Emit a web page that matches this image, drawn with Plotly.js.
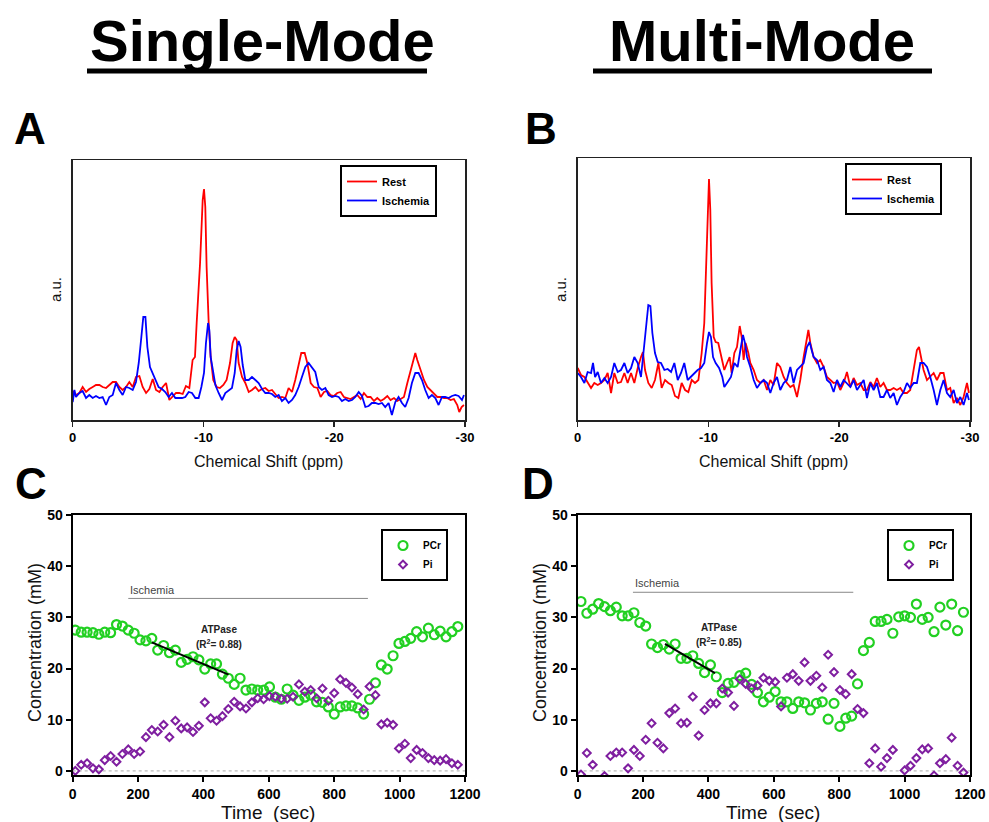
<!DOCTYPE html>
<html>
<head>
<meta charset="utf-8">
<script src="https://cdn.plot.ly/plotly-3.0.1.min.js"></script>
<style>html,body{margin:0;padding:0;background:#fff;}#chart{width:989px;height:822px;}</style>
</head>
<body>
<div id="chart"></div>
<script>
// ---------- Spectra (panel A: Single-Mode) ----------
var restA_x = [0,-0.25,-0.51,-0.76,-1.02,-1.27,-1.53,-1.78,-2.04,-2.29,-2.55,-2.80,-3.06,-3.31,-3.57,-3.82,-4.08,-4.33,-4.59,-4.84,-5.10,-5.35,-5.61,-5.86,-6.12,-6.37,-6.63,-6.88,-7.14,-7.39,-7.65,-7.90,-8.15,-8.41,-8.66,-8.92,-9.17,-9.35,-9.48,-9.74,-9.94,-10.04,-10.14,-10.24,-10.40,-10.55,-10.75,-11.01,-11.26,-11.52,-11.77,-12.03,-12.23,-12.39,-12.54,-12.69,-12.95,-13.20,-13.46,-13.71,-13.97,-14.22,-14.48,-14.73,-14.98,-15.24,-15.49,-15.75,-16.00,-16.26,-16.51,-16.77,-17.02,-17.28,-17.48,-17.74,-17.94,-18.20,-18.45,-18.71,-18.96,-19.22,-19.47,-19.72,-19.98,-20.23,-20.49,-20.74,-21.00,-21.25,-21.51,-21.76,-22.02,-22.27,-22.53,-22.78,-23.04,-23.29,-23.55,-23.80,-24.06,-24.31,-24.57,-24.82,-25.08,-25.33,-25.59,-25.84,-26.05,-26.20,-26.35,-26.61,-26.86,-27.12,-27.37,-27.62,-27.88,-28.13,-28.39,-28.64,-28.90,-29.15,-29.41,-29.56,-29.74,-29.92];
var restA_y = [29,25,27,33,28,31,33,35,35,33,32,35,38,38,33,30,33,38,33,43,44,33,27,31,41,30,28,33,37,20,24,27,27,26,34,32,60,63,97,157,220,231,213,153,97,63,40,33,32,35,40,57,77,83,80,57,43,37,28,30,33,29,31,32,29,30,26,22,23,22,32,28,40,57,67,67,57,37,33,32,23,28,29,25,24,27,28,23,22,21,23,25,21,27,23,23,19,22,19,21,24,20,22,19,21,23,37,50,62,67,60,50,40,33,30,27,23,23,22,22,20,21,15,8,13,15];
var ischA_x = [0,-0.13,-0.25,-0.51,-0.76,-1.02,-1.27,-1.53,-1.78,-2.04,-2.29,-2.55,-2.80,-3.06,-3.31,-3.57,-3.82,-4.08,-4.33,-4.59,-4.84,-5.05,-5.25,-5.40,-5.56,-5.71,-5.91,-6.12,-6.32,-6.57,-6.83,-7.08,-7.34,-7.59,-7.85,-8.10,-8.36,-8.61,-8.87,-9.12,-9.38,-9.63,-9.84,-10.04,-10.19,-10.35,-10.45,-10.55,-10.70,-10.91,-11.16,-11.42,-11.67,-11.93,-12.18,-12.39,-12.54,-12.69,-12.84,-13.00,-13.20,-13.46,-13.71,-13.97,-14.22,-14.48,-14.73,-14.98,-15.24,-15.49,-15.75,-16.00,-16.26,-16.51,-16.77,-17.02,-17.28,-17.53,-17.79,-18.04,-18.30,-18.55,-18.81,-19.06,-19.32,-19.57,-19.83,-20.08,-20.34,-20.59,-20.85,-21.10,-21.36,-21.61,-21.87,-22.12,-22.38,-22.63,-22.88,-23.14,-23.39,-23.65,-23.90,-24.16,-24.41,-24.67,-24.92,-25.18,-25.43,-25.69,-25.94,-26.20,-26.45,-26.71,-26.96,-27.22,-27.47,-27.73,-27.98,-28.24,-28.49,-28.75,-29.00,-29.26,-29.51,-29.77,-29.92];
var ischA_y = [18,30,23,27,29,22,25,22,24,22,23,15,23,25,37,30,25,33,32,30,38,57,83,103,103,73,53,47,40,33,31,28,23,27,22,22,22,23,28,27,22,22,33,47,77,97,90,63,50,35,27,20,27,30,32,47,70,79,73,55,40,40,43,40,37,31,27,27,26,23,25,19,22,17,20,25,33,43,53,57,52,48,33,30,32,25,23,24,23,19,21,19,20,23,28,24,13,14,17,17,16,17,13,17,5,18,23,17,13,22,37,47,47,40,30,22,25,22,15,23,23,22,24,25,24,20,25];

// ---------- Spectra (panel B: Multi-Mode) ----------
var restB_x = [0,-0.25,-0.51,-0.76,-1.02,-1.27,-1.53,-1.78,-2.04,-2.29,-2.55,-2.80,-3.06,-3.31,-3.57,-3.82,-4.08,-4.33,-4.59,-4.84,-4.99,-5.15,-5.40,-5.66,-5.91,-6.17,-6.42,-6.68,-6.93,-7.19,-7.44,-7.70,-7.95,-8.21,-8.46,-8.72,-8.97,-9.23,-9.48,-9.68,-9.84,-9.94,-10.04,-10.14,-10.24,-10.40,-10.55,-10.75,-10.91,-11.06,-11.21,-11.42,-11.62,-11.77,-11.98,-12.18,-12.39,-12.54,-12.69,-12.84,-13.05,-13.20,-13.46,-13.71,-13.97,-14.22,-14.48,-14.73,-14.98,-15.24,-15.49,-15.75,-16.00,-16.26,-16.51,-16.77,-17.02,-17.28,-17.48,-17.64,-17.79,-18.04,-18.30,-18.55,-18.81,-19.06,-19.32,-19.57,-19.83,-20.08,-20.34,-20.59,-20.85,-21.10,-21.36,-21.61,-21.87,-22.12,-22.38,-22.63,-22.88,-23.14,-23.39,-23.65,-23.90,-24.16,-24.41,-24.67,-24.92,-25.18,-25.43,-25.69,-25.94,-26.10,-26.25,-26.45,-26.71,-26.96,-27.22,-27.47,-27.73,-27.98,-28.24,-28.49,-28.75,-29.00,-29.26,-29.51,-29.77,-29.92];
var restB_y = [52,45,43,37,32,37,35,37,40,47,27,47,37,38,47,37,47,37,52,63,68,50,37,32,40,57,32,40,37,35,24,22,37,30,28,40,37,40,67,97,163,220,241,210,137,83,78,77,67,57,50,57,63,47,67,73,94,83,60,77,67,57,50,40,37,40,30,40,35,57,53,43,37,33,35,23,40,63,80,90,77,63,57,60,53,43,40,37,38,30,37,48,33,42,35,37,30,30,38,33,42,33,37,30,30,32,30,32,27,27,30,53,70,73,63,50,40,43,47,40,47,47,30,32,17,22,15,23,37,27];
var ischB_x = [0,-0.25,-0.51,-0.76,-1.02,-1.17,-1.33,-1.53,-1.78,-2.04,-2.29,-2.55,-2.80,-3.06,-3.31,-3.57,-3.82,-4.08,-4.33,-4.59,-4.84,-5.05,-5.25,-5.40,-5.56,-5.71,-5.91,-6.12,-6.37,-6.63,-6.88,-7.14,-7.39,-7.65,-7.90,-8.15,-8.41,-8.66,-8.92,-9.17,-9.43,-9.68,-9.89,-10.04,-10.19,-10.35,-10.55,-10.81,-11.06,-11.21,-11.47,-11.72,-11.98,-12.23,-12.44,-12.64,-12.79,-12.95,-13.20,-13.46,-13.71,-13.97,-14.22,-14.48,-14.73,-14.98,-15.24,-15.49,-15.75,-16.00,-16.26,-16.51,-16.77,-17.02,-17.28,-17.53,-17.74,-17.89,-18.04,-18.30,-18.55,-18.81,-19.06,-19.32,-19.57,-19.83,-20.08,-20.34,-20.59,-20.85,-21.10,-21.36,-21.61,-21.87,-22.12,-22.38,-22.63,-22.88,-23.14,-23.39,-23.65,-23.90,-24.16,-24.41,-24.67,-24.92,-25.18,-25.43,-25.69,-25.94,-26.20,-26.45,-26.71,-26.96,-27.22,-27.47,-27.73,-27.98,-28.24,-28.49,-28.75,-29.00,-29.26,-29.51,-29.77,-29.92];
var ischB_y = [47,43,37,48,47,57,43,48,37,42,37,43,57,48,50,57,47,52,63,57,43,73,97,115,114,87,67,58,57,50,51,48,57,40,47,57,40,43,47,50,52,57,77,88,83,63,57,52,43,33,38,43,57,53,70,85,77,63,53,40,32,37,40,37,27,37,43,30,37,40,53,37,50,53,57,73,78,70,63,60,50,53,40,37,28,40,33,40,37,33,40,30,35,40,22,37,30,37,23,23,30,22,27,15,23,28,37,32,37,37,57,57,53,43,30,15,30,40,27,23,30,17,23,15,27,20];

// ---------- Kinetics (panel C: Single-Mode) ----------
var timeC = [8,26,44,62,80,98,116,134,152,170,188,206,224,242,260,278,296,314,332,350,368,386,404,422,440,458,476,494,512,530,548,566,584,602,620,638,656,674,692,710,728,746,764,782,800,818,836,854,872,890,908,926,944,962,980,998,1016,1034,1052,1070,1088,1106,1124,1142,1160,1178];
var pcrC = [27.5,27.1,27.1,27.0,26.7,27.1,27.0,28.6,28.3,27.5,26.9,25.6,25.4,25.9,23.6,24.5,23.1,23.6,21.2,21.8,22.3,21.7,19.9,20.9,20.9,18.9,18.1,16.9,18.1,15.8,16.0,15.8,15.8,16.4,14.4,14.0,16.0,14.8,13.8,14.4,14.8,13.5,13.4,12.5,11.1,12.5,12.7,12.7,12.3,11.1,14.0,17.2,20.7,19.9,22.5,24.9,25.3,25.9,27.2,26.2,27.9,26.6,27.3,26.2,27.2,28.2];
var piC = [0.0,1.2,1.5,0.5,0.3,2.1,2.9,1.8,3.3,4.2,3.3,3.8,6.6,8.0,7.7,9.0,6.6,9.8,8.3,8.5,7.6,8.8,13.4,10.3,9.8,10.7,12.1,13.5,12.6,12.2,13.4,14.2,14.0,14.6,14.5,14.1,14.1,14.5,16.9,15.5,15.8,14.2,16.1,13.7,15.2,17.9,17.2,16.3,15.0,12.0,16.5,14.8,9.1,9.4,9.0,4.4,5.3,2.5,4.1,3.5,2.5,2.1,2.0,2.3,1.5,1.2];
var fitC_x = [242, 477];
var fitC_y = [25.1, 18.8];
var ischBarC_x = [170, 903];
var ischBarC_y = 33.7;

// ---------- Kinetics (panel D: Multi-Mode) ----------
var timeD = [10,28,46,64,82,100,118,136,154,172,190,208,226,244,262,280,298,316,334,352,370,388,406,424,442,460,478,496,514,532,550,568,586,604,622,640,658,676,694,712,730,748,766,784,802,820,838,856,874,892,910,928,946,964,982,1000,1018,1036,1054,1072,1090,1108,1126,1144,1162,1180];
var pcrD = [33.1,30.8,31.6,32.7,32.1,31.3,32.0,30.3,30.3,30.9,29.0,28.3,24.8,24.1,24.7,23.8,24.8,22.0,22.0,22.5,21.0,19.2,20.7,18.4,15.3,17.1,17.3,18.6,19.1,16.9,15.3,13.5,14.4,15.5,13.5,13.5,12.2,13.5,13.3,11.9,13.2,13.5,10.1,13.2,8.7,10.3,10.7,17.0,23.5,25.1,29.2,29.2,29.6,26.9,30.1,30.3,30.0,32.6,29.6,30.0,27.2,32.0,28.5,32.6,27.4,31.0];
var piD = [-0.7,3.5,1.2,null,-1.0,2.9,3.6,3.6,0.5,4.1,2.9,6.1,9.3,5.5,4.4,11.3,12.2,9.3,9.4,14.5,6.9,11.9,13.2,13.2,16.1,15.3,12.7,17.9,17.0,16.1,16.7,18.2,17.6,17.4,12.6,18.2,18.9,17.6,21.2,17.6,18.6,16.3,22.7,19.3,15.8,15.0,18.9,12.1,11.3,1.5,4.4,0.8,2.5,4.1,null,0.1,1.0,2.5,4.2,4.4,-0.9,1.5,2.3,6.5,1.0,-0.3];
var fitD_x = [267, 420];
var fitD_y = [24.8, 19.1];
var ischBarD_x = [169, 843];
var ischBarD_y = 34.9;

var ppmTicks = [0, -10, -20, -30];
var ppmTickText = ['0', '-10', '-20', '-30'];
var timeTicks = [0, 200, 400, 600, 800, 1000, 1200];
var concTicks = [0, 10, 20, 30, 40, 50];

var F = 'Liberation Sans, Arial, Helvetica, sans-serif';
var RED = '#ff0000', BLUE = '#0000ff', GREEN = '#22d022', PURPLE = '#7f1fa0';

var traces = [
  {x: restA_x, y: restA_y, type: 'scatter', mode: 'lines', name: 'Rest', xaxis: 'x', yaxis: 'y', legend: 'legend', line: {color: RED, width: 1.8}},
  {x: ischA_x, y: ischA_y, type: 'scatter', mode: 'lines', name: 'Ischemia', xaxis: 'x', yaxis: 'y', legend: 'legend', line: {color: BLUE, width: 1.8}},
  {x: restB_x, y: restB_y, type: 'scatter', mode: 'lines', name: 'Rest', xaxis: 'x2', yaxis: 'y2', legend: 'legend2', line: {color: RED, width: 1.8}},
  {x: ischB_x, y: ischB_y, type: 'scatter', mode: 'lines', name: 'Ischemia', xaxis: 'x2', yaxis: 'y2', legend: 'legend2', line: {color: BLUE, width: 1.8}},
  {x: timeC, y: pcrC, type: 'scatter', mode: 'markers', name: 'PCr', xaxis: 'x3', yaxis: 'y3', legend: 'legend3', marker: {symbol: 'circle-open', size: 9, color: GREEN, line: {width: 2.2, color: GREEN}}},
  {x: timeC, y: piC, type: 'scatter', mode: 'markers', name: 'Pi', xaxis: 'x3', yaxis: 'y3', legend: 'legend3', marker: {symbol: 'diamond-open', size: 6, color: PURPLE, line: {width: 2, color: PURPLE}}},
  {x: fitC_x, y: fitC_y, type: 'scatter', mode: 'lines', showlegend: false, xaxis: 'x3', yaxis: 'y3', line: {color: '#000', width: 2}},
  {x: timeD, y: pcrD, type: 'scatter', mode: 'markers', name: 'PCr', xaxis: 'x4', yaxis: 'y4', legend: 'legend4', marker: {symbol: 'circle-open', size: 9, color: GREEN, line: {width: 2.2, color: GREEN}}},
  {x: timeD, y: piD, type: 'scatter', mode: 'markers', name: 'Pi', xaxis: 'x4', yaxis: 'y4', legend: 'legend4', marker: {symbol: 'diamond-open', size: 6, color: PURPLE, line: {width: 2, color: PURPLE}}},
  {x: fitD_x, y: fitD_y, type: 'scatter', mode: 'lines', showlegend: false, xaxis: 'x4', yaxis: 'y4', line: {color: '#000', width: 2}}
];

function specX(dom, anchor) {
  return {domain: dom, anchor: anchor, range: [0, -30], tickvals: ppmTicks, ticktext: ppmTickText,
    ticks: 'outside', ticklen: 5, tickwidth: 1.5, tickcolor: '#222', showline: true, mirror: true,
    linecolor: '#222', linewidth: 1.5, showgrid: false, zeroline: false,
    tickfont: {family: F, size: 13, color: '#000', weight: 'bold'}};
}
function specY(dom, anchor, top) {
  return {domain: dom, anchor: anchor, range: [0, top], showticklabels: false, ticks: '',
    showline: true, mirror: true, linecolor: '#222', linewidth: 1.5, showgrid: false, zeroline: false};
}
function kinX(dom, anchor) {
  return {domain: dom, anchor: anchor, range: [0, 1200], tickvals: timeTicks,
    ticks: 'outside', ticklen: 5, tickwidth: 2, tickcolor: '#000', showline: true, mirror: true,
    linecolor: '#000', linewidth: 2, showgrid: false, zeroline: false,
    tickfont: {family: F, size: 14, color: '#000', weight: 'bold'}};
}
function kinY(dom, anchor) {
  return {domain: dom, anchor: anchor, range: [-0.8, 50], tickvals: concTicks,
    ticks: 'outside', ticklen: 5, tickwidth: 2, tickcolor: '#000', showline: true, mirror: true,
    linecolor: '#000', linewidth: 2, showgrid: false, zeroline: false,
    tickfont: {family: F, size: 14, color: '#000', weight: 'bold'}};
}
function legendBox(x, y, size) {
  return {x: x, y: y, xanchor: 'left', yanchor: 'top', bgcolor: '#fff', bordercolor: '#000', borderwidth: 2,
    font: {family: F, size: size, color: '#000', weight: 'bold'}, traceorder: 'normal', itemwidth: 30, tracegroupgap: 0};
}

var xL = [72.7/989, 465/989], xR = [577.7/989, 970/989];
var ySpecA = [1 - 420/822, 1 - 160/822], ySpecB = [1 - 420/822, 1 - 158/822];
var yKin = [1 - 775/822, 1 - 515/822];

function ann(text, x, y, opts) {
  var a = {text: text, x: x, y: y, xref: 'paper', yref: 'paper', showarrow: false, xanchor: 'center', yanchor: 'middle',
    font: {family: F, size: 14, color: '#000'}};
  for (var k in opts) a[k] = opts[k];
  return a;
}

var annotations = [
  ann('Single-Mode', 262/989, 1 - 40/822, {font: {family: F, size: 58, color: '#000', weight: 'bold'}}),
  ann('Multi-Mode', 762/989, 1 - 40/822, {font: {family: F, size: 58, color: '#000', weight: 'bold'}}),
  ann('A', 30/989, 1 - 129/822, {font: {family: F, size: 44, color: '#000', weight: 'bold'}}),
  ann('B', 541/989, 1 - 129/822, {font: {family: F, size: 44, color: '#000', weight: 'bold'}}),
  ann('C', 31/989, 1 - 483/822, {font: {family: F, size: 44, color: '#000', weight: 'bold'}}),
  ann('D', 538/989, 1 - 483/822, {font: {family: F, size: 44, color: '#000', weight: 'bold'}}),
  ann('Chemical Shift (ppm)', 268/989, 1 - 461/822, {font: {family: F, size: 16, color: '#111'}}),
  ann('Chemical Shift (ppm)', 773/989, 1 - 461/822, {font: {family: F, size: 16, color: '#111'}}),
  ann('a.u.', 55/989, 1 - 290/822, {textangle: -90, font: {family: F, size: 15, color: '#111'}}),
  ann('a.u.', 560/989, 1 - 290/822, {textangle: -90, font: {family: F, size: 15, color: '#111'}}),
  ann('Concentration (mM)', 35/989, 1 - 643/822, {textangle: -90, font: {family: F, size: 18, color: '#111'}}),
  ann('Concentration (mM)', 540/989, 1 - 643/822, {textangle: -90, font: {family: F, size: 18, color: '#111'}}),
  ann('Time\u00A0 (sec)', 268/989, 1 - 812/822, {font: {family: F, size: 19, color: '#111'}}),
  ann('Time\u00A0 (sec)', 773/989, 1 - 812/822, {font: {family: F, size: 19, color: '#111'}}),
  {text: 'Ischemia', x: ischBarC_x[0], y: 35.4, xref: 'x3', yref: 'y3', showarrow: false, xanchor: 'left', yanchor: 'middle', font: {family: F, size: 11, color: '#444'}},
  {text: 'Ischemia', x: ischBarD_x[0], y: 36.7, xref: 'x4', yref: 'y4', showarrow: false, xanchor: 'left', yanchor: 'middle', font: {family: F, size: 11, color: '#444'}},
  {text: 'ATPase', x: 446, y: 27.7, xref: 'x3', yref: 'y3', showarrow: false, font: {family: F, size: 10, color: '#222', weight: 'bold'}},
  {text: '(R<sup>2</sup>= 0.88)', x: 446, y: 24.8, xref: 'x3', yref: 'y3', showarrow: false, font: {family: F, size: 10, color: '#222', weight: 'bold'}},
  {text: 'ATPase', x: 432, y: 28.1, xref: 'x4', yref: 'y4', showarrow: false, font: {family: F, size: 10, color: '#222', weight: 'bold'}},
  {text: '(R<sup>2</sup>= 0.85)', x: 432, y: 25.2, xref: 'x4', yref: 'y4', showarrow: false, font: {family: F, size: 10, color: '#222', weight: 'bold'}}
];

var shapes = [
  {type: 'line', xref: 'paper', yref: 'paper', x0: 87/989, x1: 427/989, y0: 1 - 71/822, y1: 1 - 71/822, line: {color: '#000', width: 5}},
  {type: 'line', xref: 'paper', yref: 'paper', x0: 593/989, x1: 932/989, y0: 1 - 71/822, y1: 1 - 71/822, line: {color: '#000', width: 5}},
  {type: 'line', xref: 'x3', yref: 'y3', x0: ischBarC_x[0], x1: ischBarC_x[1], y0: ischBarC_y, y1: ischBarC_y, line: {color: '#888', width: 1}},
  {type: 'line', xref: 'x4', yref: 'y4', x0: ischBarD_x[0], x1: ischBarD_x[1], y0: ischBarD_y, y1: ischBarD_y, line: {color: '#888', width: 1}},
  {type: 'line', xref: 'x3', yref: 'y3', x0: 0, x1: 1200, y0: 0, y1: 0, line: {color: '#aaa', width: 1, dash: 'dot'}, layer: 'below'},
  {type: 'line', xref: 'x4', yref: 'y4', x0: 0, x1: 1200, y0: 0, y1: 0, line: {color: '#aaa', width: 1, dash: 'dot'}, layer: 'below'}
];

var layout = {
  width: 989, height: 822, margin: {l: 0, r: 0, t: 0, b: 0},
  paper_bgcolor: '#fff', plot_bgcolor: '#fff', hovermode: false,
  font: {family: F, color: '#000'},
  xaxis: specX(xL, 'y'), yaxis: specY(ySpecA, 'x', 260),
  xaxis2: specX(xR, 'y2'), yaxis2: specY(ySpecB, 'x2', 262),
  xaxis3: kinX(xL, 'y3'), yaxis3: kinY(yKin, 'x3'),
  xaxis4: kinX(xR, 'y4'), yaxis4: kinY(yKin, 'x4'),
  legend: legendBox(340/989, 1 - 165/822, 11),
  legend2: legendBox(845/989, 1 - 163/822, 11),
  legend3: legendBox(381/989, 1 - 529/822, 10),
  legend4: legendBox(887/989, 1 - 529/822, 10),
  annotations: annotations, shapes: shapes
};

Plotly.newPlot('chart', traces, layout, {staticPlot: true, displayModeBar: false});
</script>
</body>
</html>
